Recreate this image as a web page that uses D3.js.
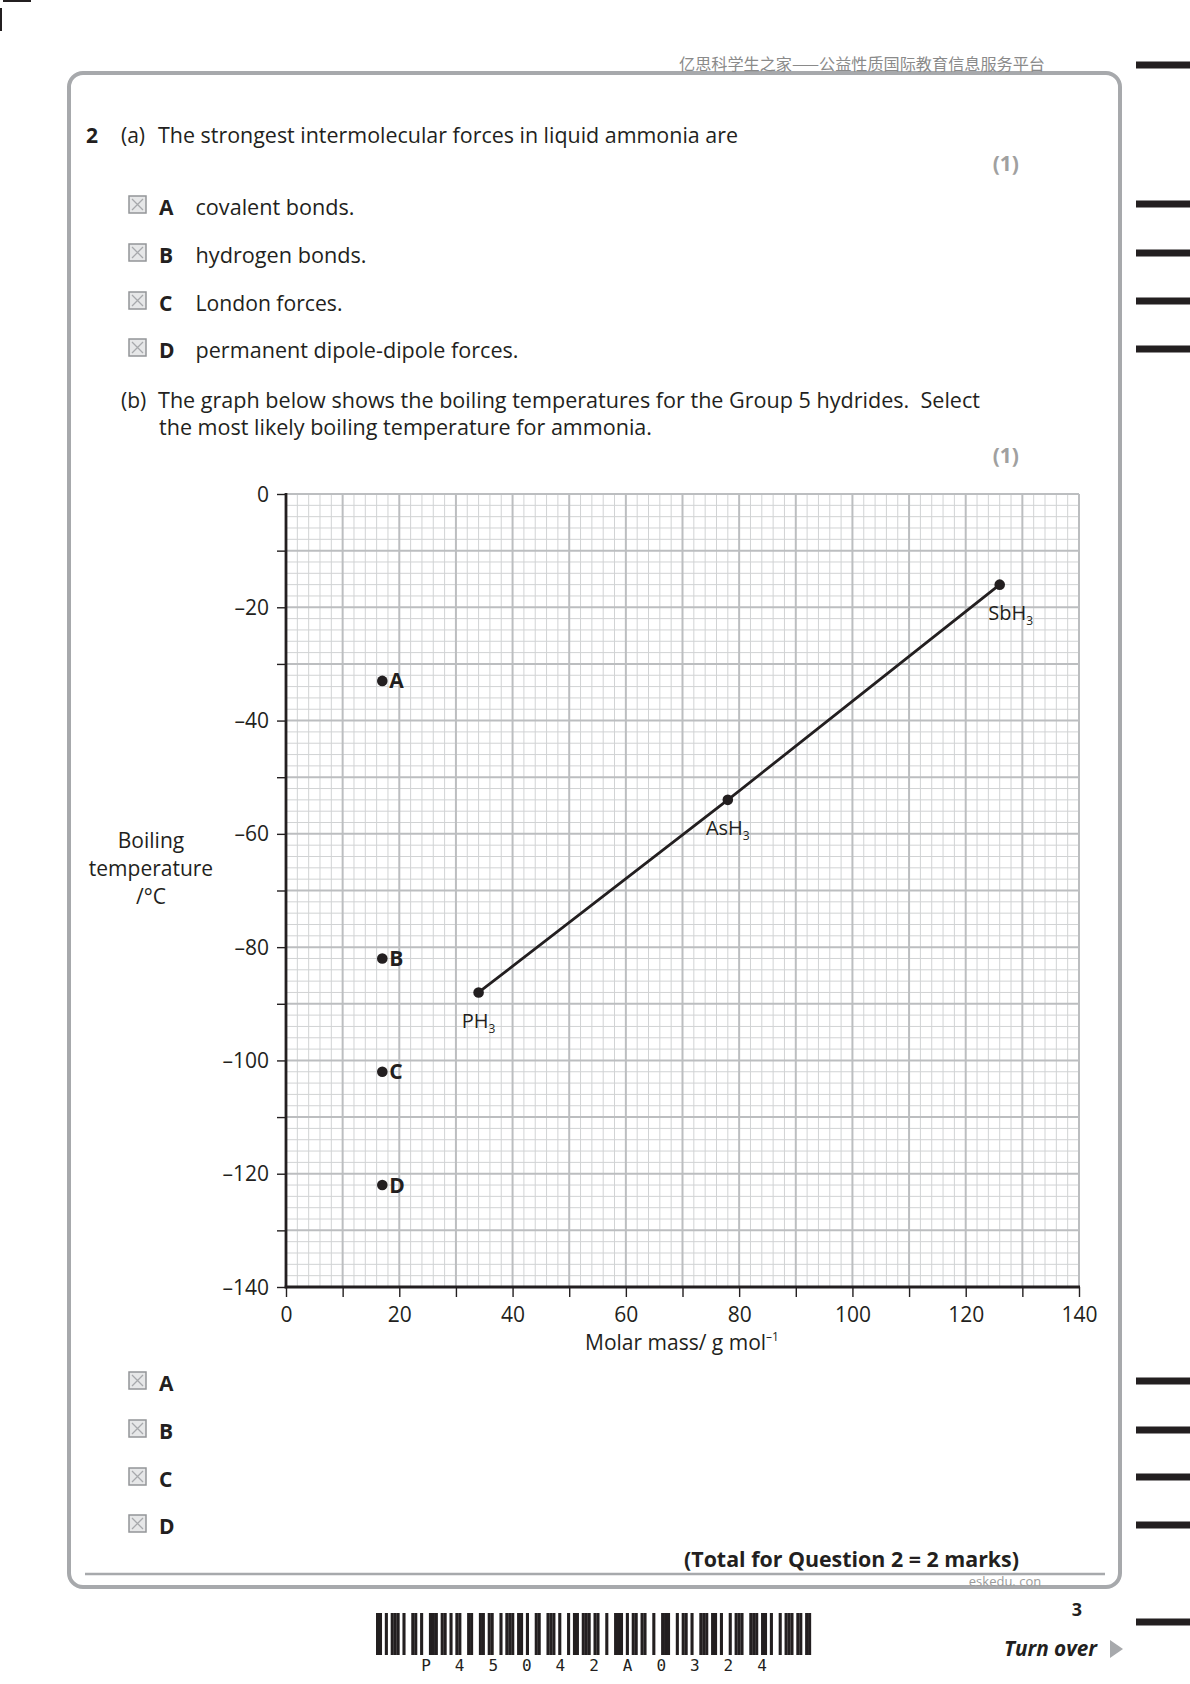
<!DOCTYPE html>
<html>
<head>
<meta charset="utf-8">
<script src="https://cdn.jsdelivr.net/npm/d3@7/dist/d3.min.js"></script>
<style>
  html, body { margin: 0; padding: 0; background: #fff; }
  svg { display: block; }
  text { font-family: "Open Sans", "Noto Sans", sans-serif; fill: #231f20; white-space: pre; }
</style>
</head>
<body>
<svg id="page" width="1190" height="1684"></svg>
<script>
// ---------------- data ----------------
const hydrideNames = ["PH3", "AsH3", "SbH3"];
const hydrideMass  = [34, 78, 126];
const hydrideBp    = [-88, -54, -16];

const optionLabels = ["A", "B", "C", "D"];
const optionMass   = [17, 17, 17, 17];
const optionBp     = [-33, -82, -102, -122];

const xTickValues  = [0, 20, 40, 60, 80, 100, 120, 140];
const yTickValues  = [0, -20, -40, -60, -80, -100, -120, -140];
const xDomain = [0, 140];
const yDomain = [-140, 0];

const partAOptions = ["covalent bonds.", "hydrogen bonds.", "London forces.", "permanent dipole-dipole forces."];
const barcodeDigits = ["P", "4", "5", "0", "4", "2", "A", "0", "3", "2", "4"];
const barcodeModules = "1101011101001101001110110101100110011011001011101101001100111010010110111011001001110101101100100111001011010011101101001011100111011010010111011011";

// ---------------- page ----------------
const svg = d3.select("#page");

function txt(x, y, s, o = {}) {
  const t = svg.append("text")
    .attr("x", x).attr("y", y)
    .attr("dy", "0.36em")
    .attr("font-size", o.size || 21)
    .attr("font-weight", o.weight || "normal")
    .attr("text-anchor", o.anchor || "start")
    .text(s);
  if (o.fill) t.style("fill", o.fill);
  if (o.style) t.attr("font-style", o.style);
  if (o.family) t.style("font-family", o.family);
  if (o.width) t.attr("textLength", o.width).attr("lengthAdjust", "spacingAndGlyphs");
  return t;
}

// crop marks top-left
svg.append("line").attr("x1", 3).attr("y1", 1).attr("x2", 31).attr("y2", 1).attr("stroke", "#231f20").attr("stroke-width", 2);
svg.append("line").attr("x1", 1).attr("y1", 8).attr("x2", 1).attr("y2", 31).attr("stroke", "#231f20").attr("stroke-width", 2);

// right-hand black bars
[65, 204, 253, 301, 349, 1381, 1430, 1477, 1525, 1622].forEach(yy => {
  svg.append("rect").attr("x", 1136).attr("y", yy - 3.5).attr("width", 54).attr("height", 7).attr("fill", "#231f20");
});

// frame
svg.append("rect").attr("x", 69).attr("y", 73).attr("width", 1051).attr("height", 1514)
  .attr("rx", 14).attr("ry", 14)
  .attr("fill", "none").attr("stroke", "#a7a9ac").attr("stroke-width", 4);

// header watermark
txt(679, 64, "亿思科学生之家——公益性质国际教育信息服务平台",
  { size: 16, fill: "#8a8a8a", family: "'Noto Sans CJK SC', sans-serif", width: 366 });

// question text
txt(86, 135, "2", { weight: "bold" });
txt(121, 135, "(a)");
txt(158, 135, "The strongest intermolecular forces in liquid ammonia are", { width: 580 });
txt(1019, 163, "(1)", { anchor: "end", weight: "bold", fill: "#a0a0a0" });

function checkbox(cx, cy) {
  const g = svg.append("g");
  g.append("rect").attr("x", cx - 9).attr("y", cy - 9).attr("width", 17).attr("height", 17)
    .attr("fill", "#e6e7e8").attr("stroke", "#939598").attr("stroke-width", 1.5);
  g.append("path").attr("d", `M${cx - 6},${cy - 6}L${cx + 5},${cy + 5}M${cx + 5},${cy - 6}L${cx - 6},${cy + 5}`)
    .attr("stroke", "#a7a9ac").attr("stroke-width", 1.3);
}

const partAY = [207, 255, 303, 350];
const partAWidths = [159, 171, 147, 323];
optionLabels.forEach((l, i) => {
  checkbox(138, partAY[i] - 2);
  txt(159, partAY[i], l, { weight: "bold" });
  txt(195.5, partAY[i], partAOptions[i], { width: partAWidths[i] });
});

txt(121, 400, "(b)");
txt(158, 400, "The graph below shows the boiling temperatures for the Group 5 hydrides.\u00A0 Select", { width: 822 });
txt(159, 427, "the most likely boiling temperature for ammonia.", { width: 493 });
txt(1019, 455, "(1)", { anchor: "end", weight: "bold", fill: "#a0a0a0" });

// ---------------- chart ----------------
const x = d3.scaleLinear().domain(xDomain).range([286, 1079]);
const y = d3.scaleLinear().domain(yDomain).range([1287, 494]);

const grid = svg.append("g");
const minor = d3.range(xDomain[0], xDomain[1] + 0.1, 2);
const minorY = d3.range(yDomain[0], yDomain[1] + 0.1, 2);
grid.selectAll("line.vx").data(minor.filter(v => v % 10 !== 0)).join("line")
  .attr("x1", d => x(d)).attr("x2", d => x(d)).attr("y1", y(0)).attr("y2", y(-140))
  .attr("stroke", "#d1d3d4").attr("stroke-width", 1);
grid.selectAll("line.hy").data(minorY.filter(v => v % 10 !== 0)).join("line")
  .attr("y1", d => y(d)).attr("y2", d => y(d)).attr("x1", x(0)).attr("x2", x(140))
  .attr("stroke", "#d1d3d4").attr("stroke-width", 1);
grid.selectAll("line.vxM").data(minor.filter(v => v % 10 === 0)).join("line")
  .attr("x1", d => x(d)).attr("x2", d => x(d)).attr("y1", y(0)).attr("y2", y(-140))
  .attr("stroke", "#bcbec0").attr("stroke-width", 2);
grid.selectAll("line.hyM").data(minorY.filter(v => v % 10 === 0)).join("line")
  .attr("y1", d => y(d)).attr("y2", d => y(d)).attr("x1", x(0)).attr("x2", x(140))
  .attr("stroke", "#bcbec0").attr("stroke-width", 2);

// axes
const fmt = d => (d < 0 ? "\u2013" + Math.abs(d) : String(d));
const yAxis = d3.axisLeft(y).tickValues(d3.range(-140, 1, 10)).tickSize(9).tickPadding(8)
  .tickFormat(d => (yTickValues.includes(d) ? fmt(d) : ""));
const xAxis = d3.axisBottom(x).tickValues(d3.range(0, 141, 10)).tickSize(10).tickPadding(10)
  .tickFormat(d => (xTickValues.includes(d) ? fmt(d) : ""));

const gy = svg.append("g").attr("transform", `translate(${x(0)},0)`).call(yAxis);
const gx = svg.append("g").attr("transform", `translate(0,${y(-140)})`).call(xAxis);
[gx, gy].forEach(g => {
  g.select(".domain").remove();
  g.selectAll(".tick line").attr("stroke", "#231f20").attr("stroke-width", 1.4);
  g.selectAll(".tick text").attr("font-size", 21).attr("font-family", "'Open Sans', sans-serif").style("fill", "#231f20");
});
gy.selectAll(".tick text").attr("dy", "0.34em");
gx.selectAll(".tick text").attr("dy", "0.71em");

svg.append("line").attr("x1", x(0)).attr("x2", x(0)).attr("y1", y(0) - 1).attr("y2", y(-140) + 1.3)
  .attr("stroke", "#231f20").attr("stroke-width", 2.8);
svg.append("line").attr("x1", x(0) - 1.3).attr("x2", x(140) + 1).attr("y1", y(-140)).attr("y2", y(-140))
  .attr("stroke", "#231f20").attr("stroke-width", 2.8);

// axis titles
txt(151, 840, "Boiling", { anchor: "middle" });
txt(151, 868, "temperature", { anchor: "middle" });
txt(151, 896, "/\u00B0C", { anchor: "middle" });

const xt = svg.append("text").attr("x", 682).attr("y", 1342).attr("dy", "0.36em")
  .attr("text-anchor", "middle").attr("font-size", 21);
xt.append("tspan").text("Molar mass/ g mol");
xt.append("tspan").attr("font-size", 12).attr("dy", "-0.75em").text("\u2013" + "1");

// hydride line + points
const pts = hydrideMass.map((m, i) => ({ m, bp: hydrideBp[i], name: hydrideNames[i] }));
svg.append("path").datum(pts)
  .attr("d", d3.line().x(d => x(d.m)).y(d => y(d.bp)))
  .attr("fill", "none").attr("stroke", "#231f20").attr("stroke-width", 2.8);
svg.selectAll("circle.h").data(pts).join("circle")
  .attr("cx", d => x(d.m)).attr("cy", d => y(d.bp)).attr("r", 5.3).attr("fill", "#231f20");

const labelDx = [0, 0, 11];
pts.forEach((d, i) => {
  const base = d.name.replace(/\d+$/, "");
  const sub = d.name.match(/\d+$/)[0];
  const t = svg.append("text").attr("x", x(d.m) + labelDx[i]).attr("y", y(d.bp) + 28)
    .attr("dy", "0.36em").attr("text-anchor", "middle").attr("font-size", 20);
  t.append("tspan").text(base);
  t.append("tspan").attr("font-size", 12).attr("dy", "0.45em").text(sub);
});

// option points
const opts = optionLabels.map((l, i) => ({ l, m: optionMass[i], bp: optionBp[i] }));
svg.selectAll("circle.o").data(opts).join("circle")
  .attr("cx", d => x(d.m)).attr("cy", d => y(d.bp)).attr("r", 5.3).attr("fill", "#231f20");
opts.forEach(d => {
  txt(x(d.m) + 7, y(d.bp), d.l, { size: 21, weight: "bold" });
});

// ---------------- bottom ----------------
const partBY = [1383, 1431, 1479, 1526];
optionLabels.forEach((l, i) => {
  checkbox(138, partBY[i] - 2);
  txt(159, partBY[i], l, { weight: "bold" });
});

txt(1019, 1559, "(Total for Question 2 = 2 marks)", { anchor: "end", weight: "bold", width: 335 });
svg.append("line").attr("x1", 85).attr("x2", 1105).attr("y1", 1574).attr("y2", 1574)
  .attr("stroke", "#a7a9ac").attr("stroke-width", 2.5);
txt(1005, 1581, "eskedu. con", { size: 13, anchor: "middle", fill: "#9a9a9a" });

// barcode
const modW = 435 / barcodeModules.length;
const bars = [];
for (let i = 0; i < barcodeModules.length; i++) if (barcodeModules[i] === "1") bars.push(i);
svg.append("g").selectAll("rect").data(bars).join("rect")
  .attr("x", d => 376 + d * modW).attr("y", 1613).attr("width", modW + 0.15).attr("height", 42)
  .attr("fill", "#231f20");
barcodeDigits.forEach((c, i) => {
  txt(426 + i * 33.6, 1665, c, { size: 16, anchor: "middle", family: "'DejaVu Sans Mono', monospace", fill: "#231f20" });
});

txt(1077, 1610, "3", { size: 18, weight: "bold", anchor: "middle" });
txt(1097, 1648, "Turn over", { size: 21, weight: "bold", style: "italic", anchor: "end", width: 93 });
svg.append("path").attr("d", "M1110,1640L1123,1649L1110,1658Z").attr("fill", "#a7a9ac");
</script>
</body>
</html>
